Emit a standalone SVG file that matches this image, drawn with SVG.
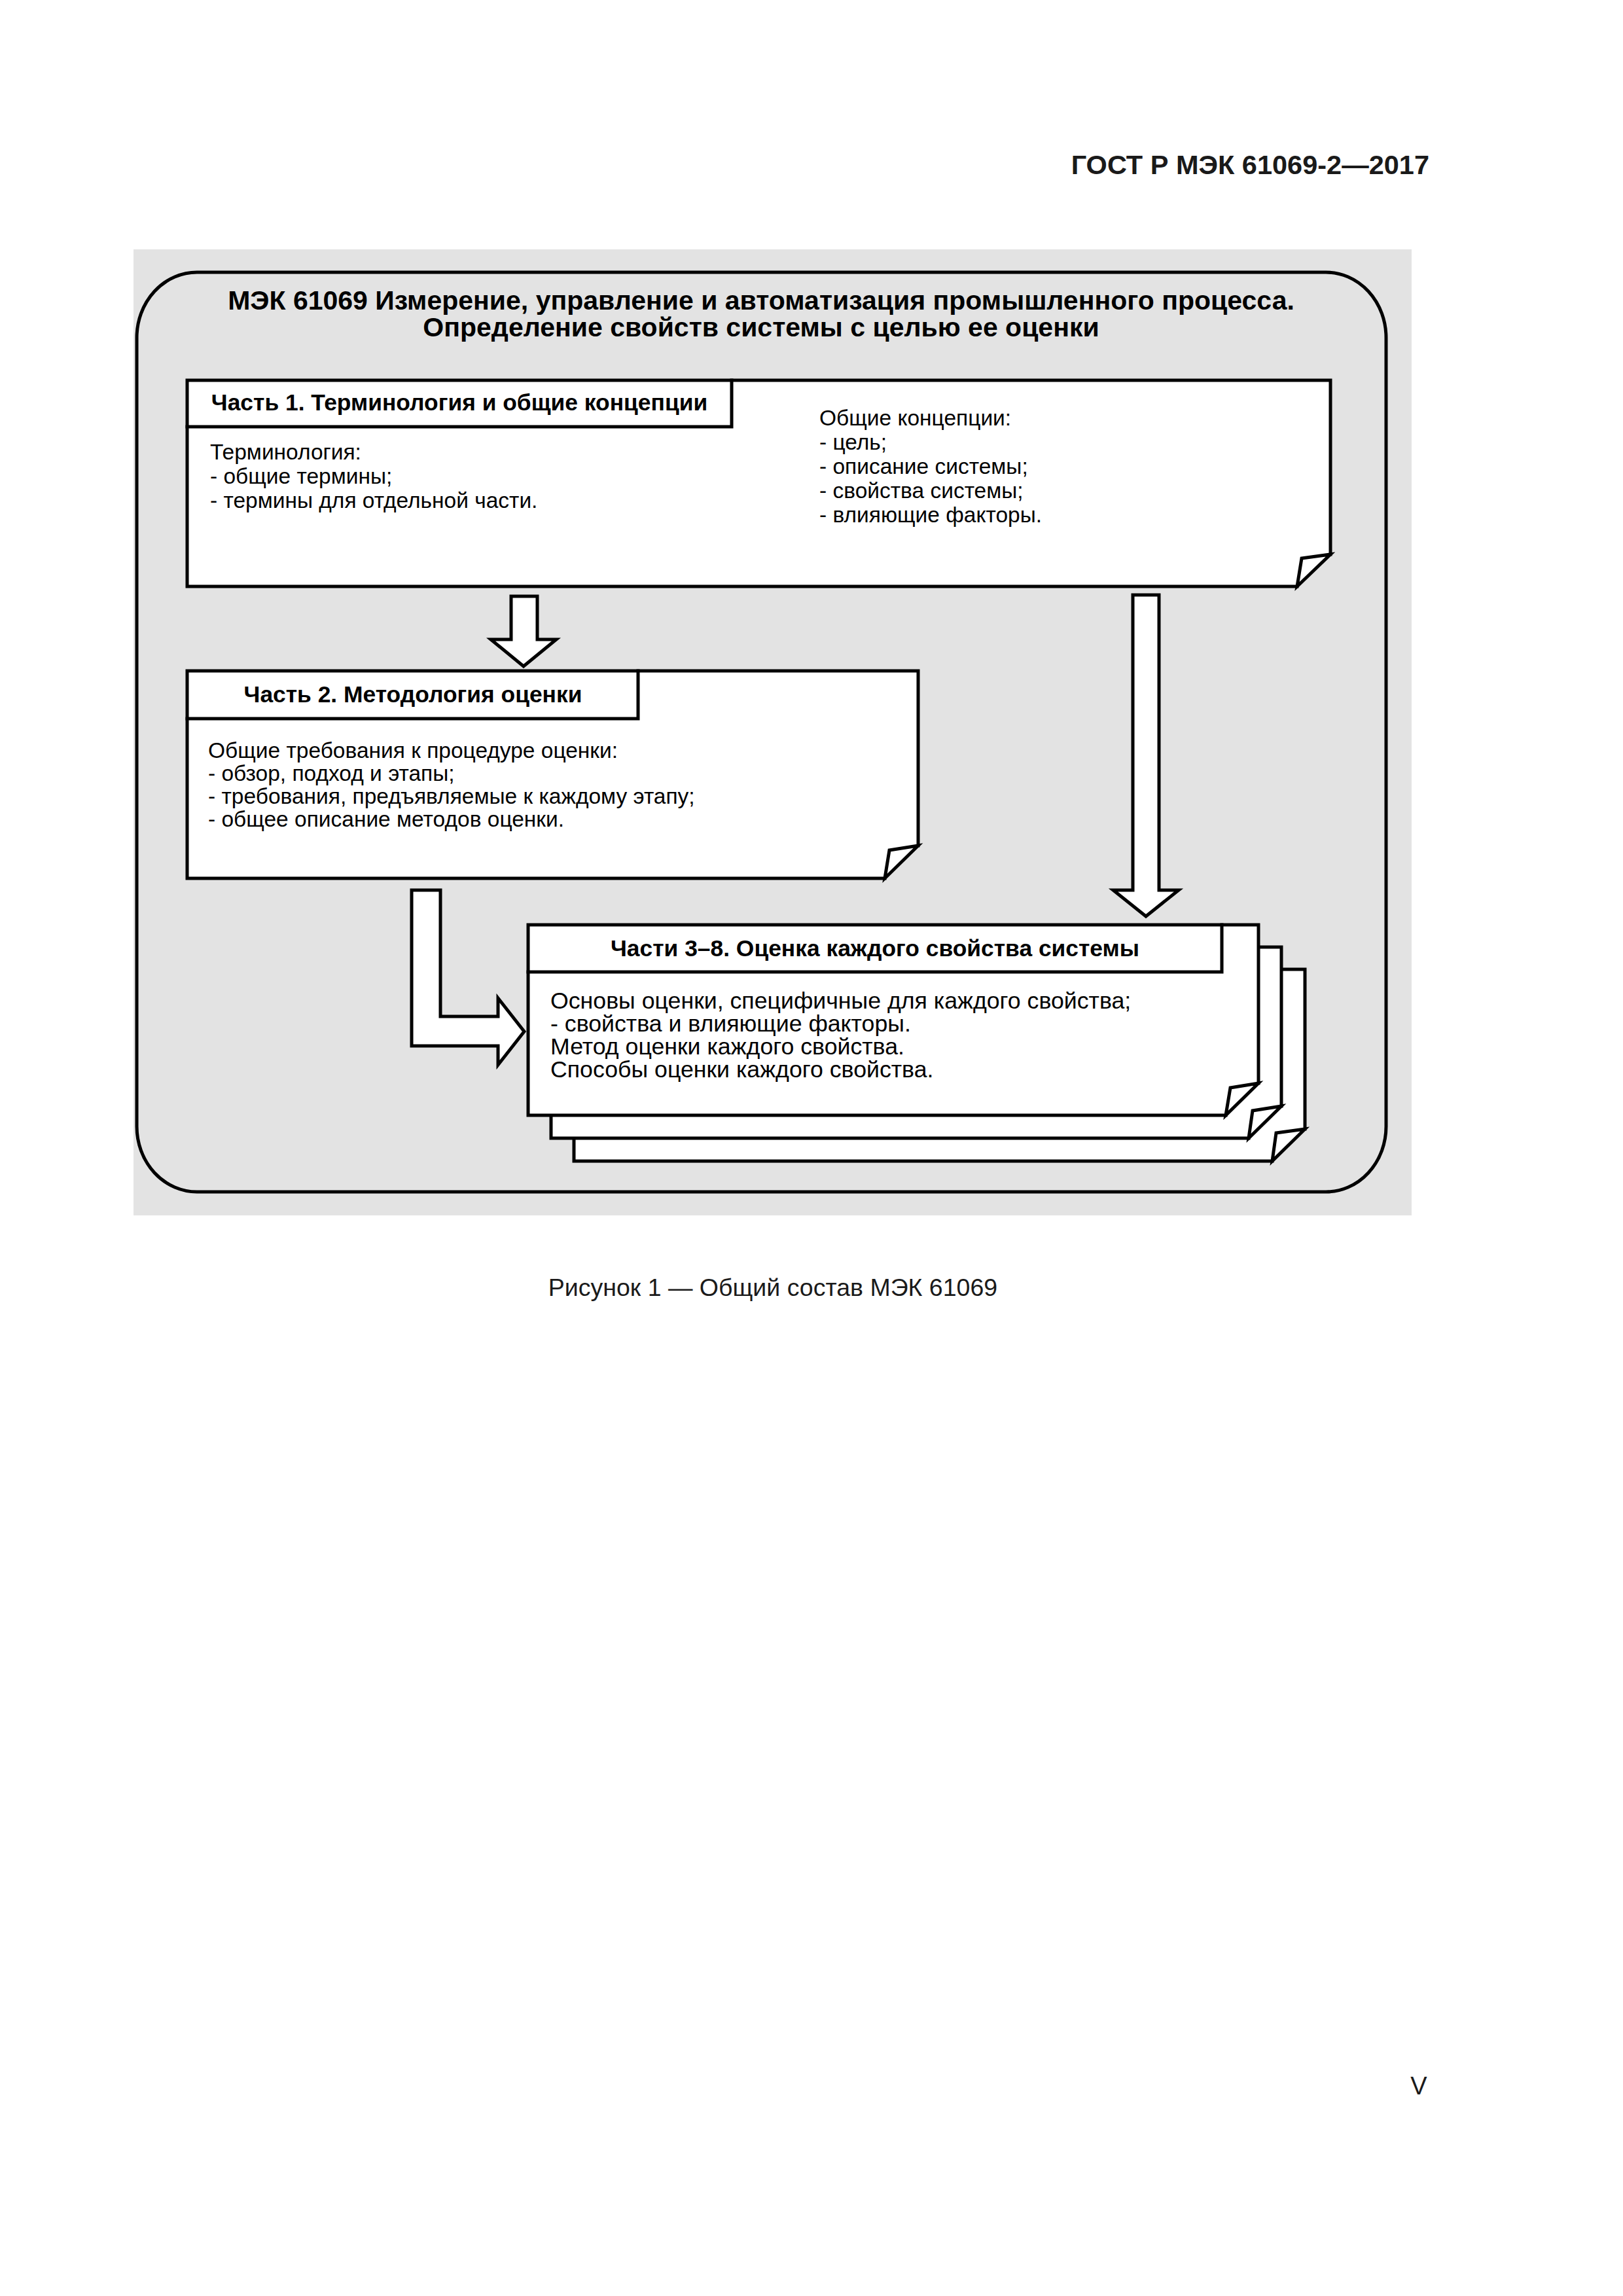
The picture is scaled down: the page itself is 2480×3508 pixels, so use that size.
<svg xmlns="http://www.w3.org/2000/svg" width="2480" height="3508" viewBox="0 0 2480 3508">
<style>
.t{font-family:"Liberation Sans",Arial,"DejaVu Sans",sans-serif;fill:#000}
.pg{fill:#1a1a1a}
.hd{font-size:41.5px;font-weight:bold}
.ti{font-size:41px;font-weight:bold;text-anchor:middle}
.nh{font-size:35.4px;font-weight:bold;text-anchor:middle}
.bd{font-size:33.5px}
.bd2{font-size:35.7px}
.cap{font-size:37.5px;text-anchor:middle}
.ln{fill:none;stroke:#000;stroke-width:5;stroke-linejoin:miter;stroke-linecap:square}
.th{fill:none;stroke:#000;stroke-width:1.5}
.wf{fill:#fff;stroke:none}
.fl{fill:#fff;stroke:#000;stroke-width:5;stroke-linejoin:miter}
.ar{fill:#fff;stroke:#000;stroke-width:5;stroke-linejoin:miter}
</style>
<rect x="0" y="0" width="2480" height="3508" fill="#fff"/>
<text class="t pg hd" x="2184" y="266" text-anchor="end">ГОСТ Р МЭК 61069-2—2017</text>

<g id="figure-bg">
<rect x="204" y="381" width="1953" height="1476" fill="#e3e3e3"/>
</g>

<g id="frame">
<rect x="209" y="416" width="1909" height="1405" rx="92" ry="100" fill="none" stroke="#000" stroke-width="5"/>
<text class="t ti" x="1163" y="473">МЭК 61069 Измерение, управление и автоматизация промышленного процесса.</text>
<text class="t ti" x="1163" y="514">Определение свойств системы с целью ее оценки</text>
</g>

<g id="connectors">
<polygon class="ar" points="781,911 821,911 821,977 850,977 800,1018 750,977 781,977"/>
<polygon class="ar" points="1731,909 1771,909 1771,1360 1801,1360 1751,1400 1701,1360 1731,1360"/>
<polygon class="ar" points="629,1360 673,1360 673,1553 761,1553 761,1525 801,1576 761,1627 761,1598 629,1598"/>
</g>

<g id="part1">
<path class="wf" d="M286,581 H2033 V847 L1982,896 H286 Z"/>
<path class="ln" d="M1982,896 H286 V581 H2033 V847"/>
<path class="th" d="M2033,847 L1982,896"/>
<path class="ln" d="M286,652 H1118 V581"/>
<polygon class="fl" points="1982,896 1989,853 2033,847"/>
<text class="t nh" x="702" y="627">Часть 1. Терминология и общие концепции</text>
<text class="t bd" x="321" y="702">Терминология:</text>
<text class="t bd" x="321" y="739">- общие термины;</text>
<text class="t bd" x="321" y="776">- термины для отдельной части.</text>
<text class="t bd" x="1252" y="650">Общие концепции:</text>
<text class="t bd" x="1252" y="687">- цель;</text>
<text class="t bd" x="1252" y="724">- описание системы;</text>
<text class="t bd" x="1252" y="761">- свойства системы;</text>
<text class="t bd" x="1252" y="798">- влияющие факторы.</text>
</g>

<g id="part2">
<path class="wf" d="M286,1025 H1403 V1292 L1352,1342 H286 Z"/>
<path class="ln" d="M1352,1342 H286 V1025 H1403 V1292"/>
<path class="th" d="M1403,1292 L1352,1342"/>
<path class="ln" d="M286,1098 H975 V1025"/>
<polygon class="fl" points="1352,1342 1359,1299 1403,1292"/>
<text class="t nh" x="631" y="1073">Часть 2. Методология оценки</text>
<text class="t bd" x="318" y="1158">Общие требования к процедуре оценки:</text>
<text class="t bd" x="318" y="1193">- обзор, подход и этапы;</text>
<text class="t bd" x="318" y="1228">- требования, предъявляемые к каждому этапу;</text>
<text class="t bd" x="318" y="1263">- общее описание методов оценки.</text>
</g>

<g id="parts3-8">
<g id="sheet3">
<path class="wf" d="M877,1481 H1994 V1725 L1944,1774 H877 Z"/>
<path class="ln" d="M1944,1774 H877 V1481 H1994 V1725"/>
<path class="th" d="M1994,1725 L1944,1774"/>
<polygon class="fl" points="1944,1774 1950,1731 1994,1725"/>
</g>
<g id="sheet2">
<path class="wf" d="M842,1447 H1958 V1690 L1908,1739 H842 Z"/>
<path class="ln" d="M1908,1739 H842 V1447 H1958 V1690"/>
<path class="th" d="M1958,1690 L1908,1739"/>
<polygon class="fl" points="1908,1739 1914,1697 1958,1690"/>
</g>
<g id="sheet1">
<path class="wf" d="M807,1413 H1923 V1655 L1873,1704 H807 Z"/>
<path class="ln" d="M1873,1704 H807 V1413 H1923 V1655"/>
<path class="th" d="M1923,1655 L1873,1704"/>
<path class="ln" d="M807,1485 H1867 V1413"/>
<polygon class="fl" points="1873,1704 1880,1662 1923,1655"/>
<text class="t nh" x="1337" y="1461">Части 3–8. Оценка каждого свойства системы</text>
<text class="t bd2" x="841" y="1541">Основы оценки, специфичные для каждого свойства;</text>
<text class="t bd2" x="841" y="1576">- свойства и влияющие факторы.</text>
<text class="t bd2" x="841" y="1611">Метод оценки каждого свойства.</text>
<text class="t bd2" x="841" y="1646">Способы оценки каждого свойства.</text>
</g>
</g>

<text class="t pg cap" x="1181" y="1980">Рисунок 1 — Общий состав МЭК 61069</text>
<text class="t pg" x="2168" y="3200" font-size="38" text-anchor="middle">V</text>
</svg>
